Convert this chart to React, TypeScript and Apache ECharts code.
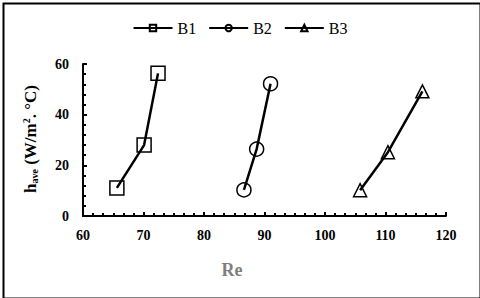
import React, { useEffect, useRef } from "react";
import * as echarts from "echarts";

const seriesNames = ["B1", "B2", "B3"];
const b1Re = [65.6, 70.1, 72.4];
const b1H = [11.1, 28.0, 56.3];
const b2Re = [86.6, 88.7, 91.0];
const b2H = [10.3, 26.4, 52.2];
const b3Re = [105.8, 110.4, 116.1];
const b3H = [10.2, 25.2, 49.2];
const symbols = ["rect", "circle", "triangle"];

const font = "Liberation Serif, Times New Roman, serif";

export default function App() {
  const ref = useRef<HTMLDivElement>(null);
  useEffect(() => {
    document.body.style.margin = "0";
    const chart = echarts.init(ref.current!, null, { renderer: "svg" });
    const data = [
      b1Re.map((x, i) => [x, b1H[i]]),
      b2Re.map((x, i) => [x, b2H[i]]),
      b3Re.map((x, i) => [x, b3H[i]]),
    ];
    chart.setOption({
      animation: false,
      backgroundColor: "#fff",
      legend: {
        top: 15,
        left: "center",
        itemWidth: 39,
        itemHeight: 8,
        itemGap: 12,
        textStyle: { fontFamily: font, fontSize: 16, color: "#000" },
        data: seriesNames,
      },
      grid: { left: 83, right: 34, top: 64, bottom: 82 },
      xAxis: {
        type: "value",
        min: 60,
        max: 120,
        interval: 10,
        axisLine: { lineStyle: { color: "#000", width: 2 } },
        axisTick: { inside: true, length: 4, lineStyle: { color: "#000", width: 2 } },
        minorTick: { show: true, splitNumber: 6, length: 3, lineStyle: { color: "#000", width: 2 } },
        splitLine: { show: false },
        axisLabel: {
          margin: 12,
          fontFamily: font,
          fontSize: 14,
          fontWeight: "bold",
          color: "#000",
        },
      },
      yAxis: {
        type: "value",
        min: 0,
        max: 60,
        interval: 20,
        axisLine: { show: true, lineStyle: { color: "#000", width: 2 } },
        axisTick: { show: true, inside: true, length: 4, lineStyle: { color: "#000", width: 2 } },
        minorTick: { show: true, splitNumber: 5, length: 3, lineStyle: { color: "#000", width: 2 } },
        splitLine: { show: false },
        axisLabel: {
          margin: 14,
          fontFamily: font,
          fontSize: 14,
          fontWeight: "bold",
          color: "#000",
        },
      },
      graphic: [
        {
          type: "rect",
          left: 1,
          top: 1,
          shape: { width: 477, height: 295 },
          style: { fill: "none", stroke: "#000", lineWidth: 2 },
          silent: true,
        },
        {
          type: "text",
          x: 232,
          y: 270,
          style: {
            text: "Re",
            fill: "#7f7f7f",
            font: `bold 18px ${font}`,
            align: "center",
            verticalAlign: "middle",
          },
        },
        {
          type: "text",
          x: 30,
          y: 139,
          rotation: Math.PI / 2,
          style: {
            text: "{h|h}{sub|ave}{h| (W/m}{sup|2}{h|. °C)}",
            align: "center",
            verticalAlign: "middle",
            rich: {
              h: { font: `bold 17px ${font}`, fill: "#000" },
              sub: { font: `bold 10px ${font}`, fill: "#000", padding: [8, 0, 0, 0] },
              sup: { font: `bold 10px ${font}`, fill: "#000", padding: [0, 0, 8, 0] },
            },
          },
        },
      ],
      series: seriesNames.map((n, i) => ({
        name: n,
        type: "line",
        data: data[i],
        symbol: symbols[i],
        symbolSize: i === 2 ? 13 : 14,
        showAllSymbol: true,
        lineStyle: { color: "#000", width: 2.5 },
        itemStyle: { color: "transparent", borderColor: "#000", borderWidth: 1.5 },
        emphasis: { disabled: true },
      })),
    });
    return () => chart.dispose();
  }, []);
  return <div ref={ref} style={{ width: 480, height: 298 }} />;
}
